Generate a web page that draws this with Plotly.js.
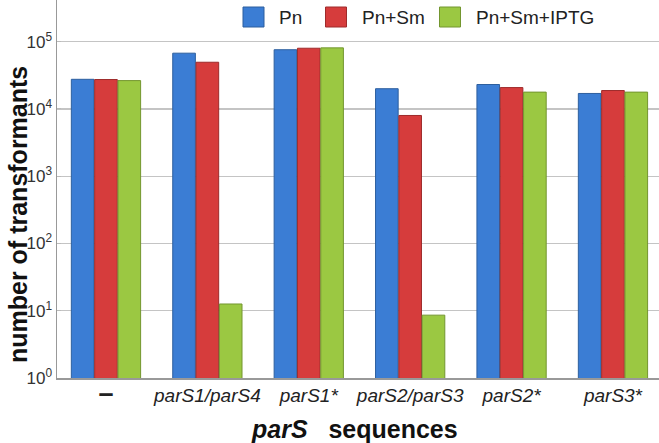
<!DOCTYPE html>
<html>
<head>
<meta charset="utf-8">
<script src="https://cdn.plot.ly/plotly-3.0.1.min.js"></script>
<style>
html,body{margin:0;padding:0;background:#fff;}
#chart{width:659px;height:443px;}
</style>
</head>
<body>
<div id="chart"></div>
<script>
// ---- data ----
var categories = ['-', 'parS1/parS4', 'parS1*', 'parS2/parS3', 'parS2*', 'parS3*'];
var seriesNames = ['Pn', 'Pn+Sm', 'Pn+Sm+IPTG'];
var pn         = [27600, 67500, 76000, 20000, 23100, 17000];
var pnSm       = [27400, 49500, 80000, 8000, 20800, 18800];
var pnSmIptg   = [26400, 12.6, 81000, 8.6, 17800, 17800];
var yTickVals  = [1, 10, 100, 1000, 10000, 100000];
var yTickText  = ['10<sup>0</sup>', '10<sup>1</sup>', '10<sup>2</sup>', '10<sup>3</sup>', '10<sup>4</sup>', '10<sup>5</sup>'];
var xTickText  = ['<span style="font-size:27px"><b>\u2013</b></span>', '<i>parS1/parS4</i>', '<i>parS1*</i>', '<i>parS2/parS3</i>', '<i>parS2*</i>', '<i>parS3*</i>'];

var seriesValues = [pn, pnSm, pnSmIptg];
var colors = ['#3b7dd4', '#d63c3c', '#9bc842'];
var edge = ['#2d5f9e', '#9e2b2b', '#73962f'];

var W = 659, H = 443, L = 57, R = 0, T = 0, B = 65;
function px(x){ return (x - L) / (W - L - R); }
function py(y){ return (H - B - y) / (H - T - B); }

var traces = seriesValues.map(function(vals, i){
  return {
    type: 'bar',
    name: seriesNames[i],
    x: categories,
    y: vals,
    marker: {color: colors[i], line: {color: edge[i], width: 1}},
    showlegend: false,
    hoverinfo: 'x+y+name'
  };
});

// custom legend (larger squares as in reference)
var legSq = [243, 325.5, 439.5];
var shapes = [], annotations = [];
seriesNames.forEach(function(n, i){
  shapes.push({type: 'rect', xref: 'paper', yref: 'paper',
    x0: px(legSq[i]), x1: px(legSq[i] + 21), y0: py(27), y1: py(7),
    fillcolor: colors[i], line: {color: edge[i], width: 1}});
  annotations.push({xref: 'paper', yref: 'paper', x: px(legSq[i] + 34), y: py(17),
    xanchor: 'left', yanchor: 'middle', showarrow: false, text: n,
    font: {family: 'Arial, Liberation Sans, sans-serif', size: 19, color: '#222'}});
});
annotations.push({xref: 'paper', yref: 'paper', x: px(18), y: py(215), textangle: -90,
  xanchor: 'center', yanchor: 'middle', showarrow: false,
  text: '<b>number of transformants</b>',
  font: {family: 'Arial, Liberation Sans, sans-serif', size: 25, color: '#111'}});
annotations.push({xref: 'paper', yref: 'paper', x: px(354), y: py(429),
  xanchor: 'center', yanchor: 'middle', showarrow: false,
  text: '<b><i>parS</i>\u00a0\u00a0 sequences</b>',
  font: {family: 'Arial, Liberation Sans, sans-serif', size: 25, color: '#111'}});

var layout = {
  width: W, height: H,
  margin: {l: L, r: R, t: T, b: B, pad: 0},
  paper_bgcolor: '#fff', plot_bgcolor: '#fff',
  barmode: 'group', bargap: 0.31, bargroupgap: 0.03,
  font: {family: 'Arial, Liberation Sans, sans-serif', color: '#222'},
  xaxis: {
    type: 'category',
    range: [-0.483, 5.454],
    tickvals: categories, ticktext: xTickText,
    tickfont: {size: 19, color: '#222'},
    showline: true, linecolor: '#999', linewidth: 1.5,
    ticks: '', showgrid: false, zeroline: false
  },
  yaxis: {
    type: 'log',
    range: [0, 5.62],
    tickvals: yTickVals, ticktext: yTickText,
    tickfont: {size: 17, color: '#333'},
    ticks: 'inside', ticklen: 4, tickcolor: '#bbb',
    showline: true, linecolor: '#999', linewidth: 1.5,
    showgrid: true, gridcolor: '#c4c4c4', gridwidth: 1.3,
    zeroline: false
  },
  shapes: shapes,
  annotations: annotations
};

Plotly.newPlot('chart', traces, layout, {displayModeBar: false, staticPlot: true});
</script>
</body>
</html>
